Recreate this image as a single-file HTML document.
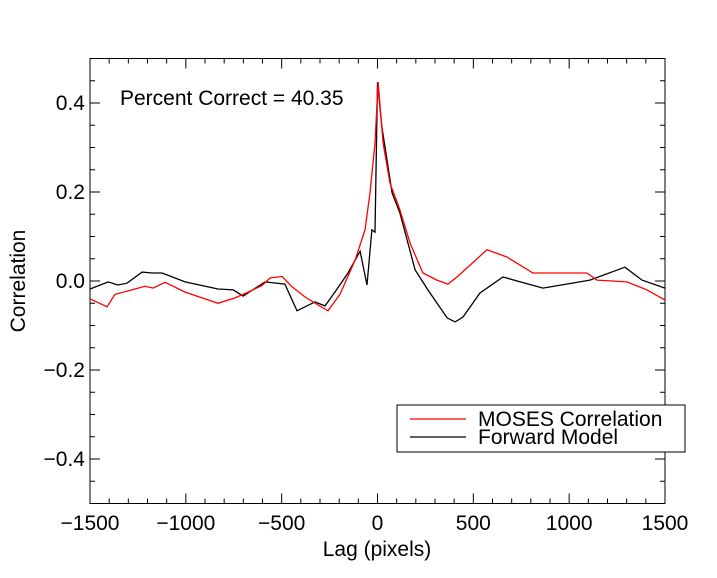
<!DOCTYPE html>
<html><head><meta charset="utf-8"><style>
body{margin:0;background:#fff;}
svg text{font-family:"Liberation Sans",sans-serif;}
</style></head><body>
<svg id="chart" width="717" height="573"></svg>
<script>
const mosesLag=[-1500,-1411,-1370,-1213,-1171,-1108,-1004,-915,-832,-743,-675,-602,-560,-498,-446,-378,-310,-258,-196,-117,-65,-39,-13,3,29,65,117,170,237,310,368,415,571,675,811,936,1092,1145,1301,1406,1500];
const mosesVal=[-0.04,-0.058,-0.03,-0.012,-0.016,-0.003,-0.025,-0.038,-0.05,-0.038,-0.025,-0.01,0.007,0.01,-0.013,-0.036,-0.054,-0.067,-0.03,0.047,0.115,0.198,0.31,0.447,0.31,0.22,0.16,0.085,0.018,0.002,-0.007,0.009,0.07,0.054,0.018,0.018,0.018,0.002,-0.002,-0.02,-0.043];
const modelLag=[-1500,-1405,-1354,-1307,-1228,-1176,-1124,-1004,-832,-753,-701,-587,-483,-420,-326,-274,-222,-154,-91,-55,-29,-13,0,23,76,117,196,263,363,405,446,535,655,863,1108,1291,1380,1500];
const modelVal=[-0.018,-0.002,-0.009,-0.005,0.02,0.018,0.018,-0.002,-0.018,-0.02,-0.034,-0.002,-0.007,-0.067,-0.047,-0.056,-0.025,0.018,0.067,-0.009,0.115,0.11,0.447,0.346,0.198,0.153,0.025,-0.02,-0.083,-0.092,-0.081,-0.027,0.009,-0.016,0.002,0.031,0.002,-0.016];
const xTicks=[-1500,-1000,-500,0,500,1000,1500];
const xTickLabels=["\u22121500","\u22121000","\u2212500","0","500","1000","1500"];
const yTicks=[-0.4,-0.2,0,0.2,0.4];
const yTickLabels=["\u22120.4","\u22120.2","0.0","0.2","0.4"];

const L=90,R=665,T=58.5,B=503.5;
const FS=21;
const sx=v=>L+(v+1500)/3000*(R-L);
const sy=v=>B-(v+0.5)/1.0*(B-T);
const svg=document.getElementById('chart');
const NS='http://www.w3.org/2000/svg';
function mk(tag,attrs){const e=document.createElementNS(NS,tag);for(const k in attrs)e.setAttribute(k,attrs[k]);svg.appendChild(e);return e;}

const frame=mk('rect',{x:L,y:T,width:R-L,height:B-T,fill:'none',stroke:'#000','stroke-width':1});



for(let v=-1500;v<=1500;v+=100){
  const major=v%500===0, len=major?10:5, x=sx(v);
  const t1=mk('line',{x1:x,y1:B,x2:x,y2:B-len,stroke:'#000'});
  
  
  const t2=mk('line',{x1:x,y1:T,x2:x,y2:T+len,stroke:'#000'});
  
  
}
for(let i=-10;i<=10;i++){
  const v=i*0.05, major=i%4===0, len=major?10:5, y=sy(v);
  const t1=mk('line',{x1:L,y1:y,x2:L+len,y2:y,stroke:'#000'});
  
  
  const t2=mk('line',{x1:R,y1:y,x2:R-len,y2:y,stroke:'#000'});
  
  
}
xTicks.forEach((v,i)=>{
  const t=mk('text',{x:sx(v),y:530,'text-anchor':'middle','font-size':FS});
  t.textContent=xTickLabels[i];
  
  
});
yTicks.forEach((v,i)=>{
  const t=mk('text',{x:85,y:sy(v)+7,'text-anchor':'end','font-size':FS});
  t.textContent=yTickLabels[i];
  
  
});
const xt=mk('text',{x:377,y:556,'text-anchor':'middle','font-size':FS});
xt.textContent='Lag (pixels)';


const yt=mk('text',{x:25,y:281,'text-anchor':'middle','font-size':FS,transform:'rotate(-90 25 281)'});
yt.textContent='Correlation';



function pts(xs,ys){return xs.map((x,i)=>sx(x).toFixed(1)+','+sy(ys[i]).toFixed(1)).join(' ');}
const lm=mk('polyline',{points:pts(modelLag,modelVal),fill:'none',stroke:'#000','stroke-width':1.3});


const lr=mk('polyline',{points:pts(mosesLag,mosesVal),fill:'none',stroke:'#f00','stroke-width':1.3});



const ann=mk('text',{x:120,y:105,'font-size':FS});
ann.textContent='Percent Correct = 40.35';



const lg=mk('rect',{x:397,y:405,width:288,height:47,fill:'#fff',stroke:'#000'});


const l1=mk('line',{x1:410,y1:419,x2:466,y2:419,stroke:'#f00','stroke-width':1.3});


const t1=mk('text',{x:478,y:426,'font-size':FS});
t1.textContent='MOSES Correlation';


const l2=mk('line',{x1:410,y1:437,x2:466,y2:437,stroke:'#000','stroke-width':1.3});


const t2=mk('text',{x:478,y:444,'font-size':FS});
t2.textContent='Forward Model';


</script>
</body></html>
